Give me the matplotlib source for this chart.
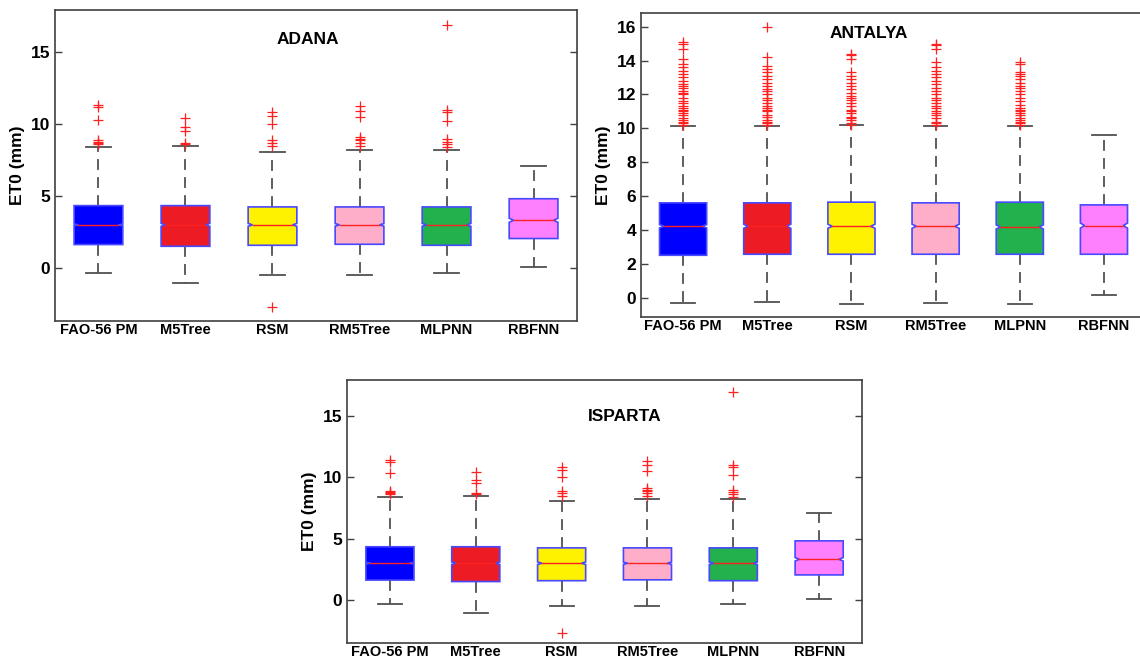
import numpy as np
import matplotlib.pyplot as plt

plt.rcParams['font.family'] = ['Liberation Sans', 'DejaVu Sans']
plt.rcParams['font.weight'] = 'bold'

models = ["FAO-56 PM", "M5Tree", "RSM", "RM5Tree", "MLPNN", "RBFNN"]
box_colors = ["#0000ff", "#ed1c24", "#fff200", "#ffaec9", "#22b14c", "#ff80ff"]

#%% ADANA (ISPARTA panel shows the same numbers)
adana_q1 = [1.62, 1.50, 1.57, 1.64, 1.57, 2.04]
adana_med = [2.99, 2.99, 2.99, 2.99, 2.99, 3.31]
adana_q3 = [4.33, 4.33, 4.24, 4.24, 4.24, 4.81]
adana_wlo = [-0.35, -1.09, -0.51, -0.51, -0.35, 0.07]
adana_whi = [8.40, 8.47, 8.06, 8.22, 8.22, 7.06]
adana_notch = [0.06, 0.10, 0.10, 0.09, 0.10, 0.14]
adana_out = [
    [11.37, 11.23, 10.3, 8.87, 8.75, 8.68, 8.59],
    [10.44, 9.79, 9.51, 8.68, 8.59],
    [10.83, 10.6, 9.98, 8.87, 8.68, 8.5, -2.71],
    [11.3, 10.95, 10.49, 9.1, 8.98, 8.87, 8.68, 8.5],
    [16.92, 11.0, 10.83, 10.19, 8.98, 8.75, 8.59, 8.4],
    [],
]

#%% ANTALYA
antalya_q1 = [2.52, 2.58, 2.58, 2.58, 2.58, 2.58]
antalya_med = [4.23, 4.23, 4.23, 4.23, 4.19, 4.27]
antalya_q3 = [5.61, 5.61, 5.65, 5.61, 5.65, 5.49]
antalya_wlo = [-0.30, -0.24, -0.33, -0.30, -0.33, 0.20]
antalya_whi = [10.14, 10.14, 10.18, 10.14, 10.14, 9.61]
antalya_notch = [0.10, 0.12, 0.12, 0.12, 0.12, 0.15]
antalya_out = [
    [10.2, 10.3, 10.4, 10.5, 10.6, 10.8, 10.9, 11.0, 11.1, 11.2, 11.3, 11.5,
     11.6, 11.8, 12.0, 12.1, 12.2, 12.4, 12.5, 12.6, 12.8, 13.0, 13.2, 13.4,
     13.6, 13.8, 14.1, 14.7, 15.0, 15.1],
    [10.2, 10.3, 10.4, 10.5, 10.7, 10.8, 11.0, 11.1, 11.2, 11.3, 11.5, 11.7,
     11.8, 12.0, 12.2, 12.3, 12.5, 12.7, 12.9, 13.1, 13.3, 13.5, 13.7, 14.2,
     16.0],
    [10.2, 10.3, 10.5, 10.6, 10.7, 10.9, 11.0, 11.1, 11.3, 11.5, 11.7, 11.8,
     11.9, 12.1, 12.3, 12.5, 12.7, 12.9, 13.1, 13.3, 14.1, 14.3, 14.4],
    [10.2, 10.3, 10.4, 10.6, 10.8, 10.9, 11.0, 11.2, 11.3, 11.5, 11.7, 11.8,
     12.0, 12.2, 12.4, 12.6, 12.8, 13.0, 13.2, 13.4, 13.6, 13.9, 14.7, 14.9,
     15.0],
    [10.2, 10.3, 10.4, 10.5, 10.6, 10.8, 10.9, 11.0, 11.1, 11.2, 11.4, 11.6,
     11.8, 12.0, 12.2, 12.4, 12.5, 12.7, 12.9, 13.1, 13.2, 13.3, 13.8, 13.9],
    [],
]

#%% ISPARTA
isparta_q1 = adana_q1
isparta_med = adana_med
isparta_q3 = adana_q3
isparta_wlo = adana_wlo
isparta_whi = adana_whi
isparta_notch = adana_notch
isparta_out = adana_out


def box_panel(ax, q1, med, q3, wlo, whi, notch, out, title, title_xy,
              ylim, yticks, right_ticks=True):
    w = 0.56
    d = 0.09 * w
    for i in range(len(models)):
        p = i + 1
        L = p - w / 2
        R = p + w / 2
        # whiskers
        ax.plot([p, p], [q3[i], whi[i]], color="#505050", lw=1.3,
                dashes=(6, 4), zorder=1)
        ax.plot([p, p], [q1[i], wlo[i]], color="#505050", lw=1.3,
                dashes=(6, 4), zorder=1)
        ax.plot([p - w / 4, p + w / 4], [whi[i], whi[i]], color="#505050",
                lw=1.3, zorder=1)
        ax.plot([p - w / 4, p + w / 4], [wlo[i], wlo[i]], color="#505050",
                lw=1.3, zorder=1)
        # notched box
        lo = med[i] - notch[i]
        hi = med[i] + notch[i]
        bx = [L, R, R, R - d, R, R, L, L, L + d, L, L]
        by = [q1[i], q1[i], lo, med[i], hi, q3[i], q3[i], hi, med[i], lo, q1[i]]
        ax.fill(bx, by, facecolor=box_colors[i], edgecolor="#4848ff",
                lw=1.2, zorder=2)
        ax.plot([L + d, R - d], [med[i], med[i]], color="#ff2020", lw=1.0,
                zorder=3)
        # outliers
        if len(out[i]) > 0:
            ax.plot([p] * len(out[i]), out[i], linestyle="none", marker="+",
                    color="#ff2020", ms=7, mew=0.9, zorder=3)
    ax.set_xlim(0.5, 6.5)
    ax.set_ylim(ylim)
    ax.set_yticks(yticks)
    ax.set_xticks(range(1, 7))
    ax.set_xticklabels(models, fontsize=10.5, fontweight="bold")
    ax.tick_params(axis="x", length=0, pad=1.5)
    ax.tick_params(axis="y", direction="in", length=5, right=right_ticks,
                   labelsize=12.5, color="#404040", width=1.0)
    for lab in ax.get_yticklabels():
        lab.set_fontweight("bold")
    for s in ax.spines.values():
        s.set_color("#404040")
        s.set_linewidth(1.2)
    ax.set_ylabel("ET0 (mm)", fontsize=12.5, fontweight="bold")
    ax.text(title_xy[0], title_xy[1], title, transform=ax.transAxes,
            ha="center", va="center", fontsize=12.5, fontweight="bold")


fig = plt.figure(figsize=(11.4, 6.61), dpi=100)

ax1 = fig.add_axes([0.0482, 0.5144, 0.458, 0.4705])
box_panel(ax1, adana_q1, adana_med, adana_q3, adana_wlo, adana_whi,
          adana_notch, adana_out, "ADANA", (0.485, 0.904), (-3.7, 17.95),
          [0, 5, 10, 15])

ax2 = fig.add_axes([0.5623, 0.5204, 0.443, 0.4599])
box_panel(ax2, antalya_q1, antalya_med, antalya_q3, antalya_wlo, antalya_whi,
          antalya_notch, antalya_out, "ANTALYA", (0.45, 0.934), (-1.12, 16.8),
          [0, 2, 4, 6, 8, 10, 12, 14, 16], right_ticks=False)

ax3 = fig.add_axes([0.3044, 0.0272, 0.4518, 0.398])
box_panel(ax3, isparta_q1, isparta_med, isparta_q3, isparta_wlo, isparta_whi,
          isparta_notch, isparta_out, "ISPARTA", (0.54, 0.862), (-3.5, 17.9),
          [0, 5, 10, 15])

fig.savefig("out.png", dpi=100)
